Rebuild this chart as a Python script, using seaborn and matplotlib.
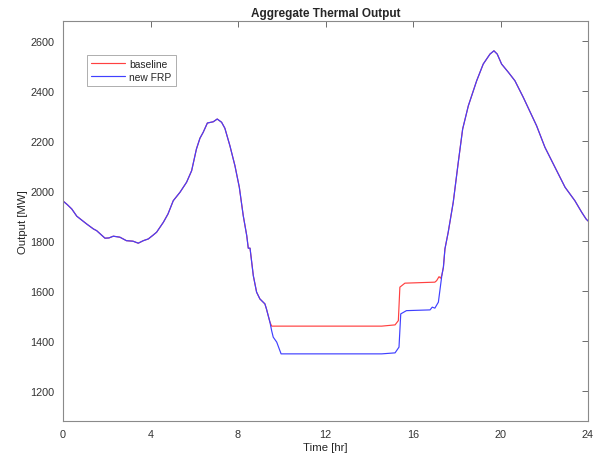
import numpy as np
import pandas as pd
import matplotlib
import matplotlib.pyplot as plt
import seaborn as sns

matplotlib.use("Agg")

# shared part before the two runs split (hr, MW)
hours_am = [0.0, 0.2, 0.4, 0.63, 1.08, 1.39, 1.54, 1.92, 2.1, 2.3, 2.6, 2.9, 3.2, 3.44,
            3.67, 3.9, 4.13, 4.28, 4.59, 4.8, 5.04, 5.35, 5.65, 5.88, 6.1, 6.26, 6.41,
            6.6, 6.87, 7.05, 7.25, 7.4, 7.63, 7.86, 8.06, 8.24, 8.4, 8.47, 8.55, 8.7,
            8.85, 9.0, 9.23, 9.3, 9.46]
output_am = [1960, 1945, 1928, 1899, 1868, 1848, 1841, 1811, 1812, 1819, 1815, 1801, 1799, 1791,
             1801, 1808, 1824, 1835, 1875, 1908, 1961, 1995, 2035, 2081, 2168, 2211, 2235,
             2272, 2277, 2288, 2275, 2251, 2181, 2101, 2015, 1901, 1821, 1771, 1771, 1661,
             1595, 1568, 1548, 1528, 1475]

# middle of the day, where baseline and new FRP differ
hours_mid_base = [9.54, 14.57, 15.18, 15.33, 15.4, 15.63, 17.0, 17.08, 17.19, 17.26]
base_mid = [1459, 1459, 1464, 1481, 1615, 1631, 1635, 1641, 1657, 1651]
hours_mid_frp = [9.54, 9.61, 9.77, 9.97, 14.57, 15.18, 15.36, 15.44, 15.7, 16.78, 16.88, 17.0, 17.16]
frp_mid = [1440, 1415, 1395, 1348, 1348, 1352, 1375, 1508, 1521, 1524, 1535, 1531, 1555]

# shared evening part
hours_pm = [17.32, 17.39, 17.46, 17.61, 17.84, 18.07, 18.27, 18.53, 18.91, 19.21, 19.52, 19.7,
            19.85, 20.05, 20.36, 20.66, 21.04, 21.65, 22.03, 22.57, 22.95, 23.4, 23.71, 23.91, 24.0]
output_pm = [1663, 1695, 1768, 1835, 1955, 2115, 2248, 2341, 2441, 2508, 2548, 2561,
             2548, 2508, 2475, 2441, 2375, 2261, 2175, 2081, 2015, 1961, 1915, 1888, 1880]

series = ["baseline", "new FRP"]

frames = []
for name, hm, vm in [(series[0], hours_mid_base, base_mid), (series[1], hours_mid_frp, frp_mid)]:
    frames.append(pd.DataFrame({
        "hr": hours_am + hm + hours_pm,
        "MW": output_am + vm + output_pm,
        "run": name,
    }))
df = pd.concat(frames, ignore_index=True)

sns.set_style("white")
plt.rcParams['font.family'] = ['Liberation Sans', 'DejaVu Sans']

fig = plt.figure(figsize=(6, 4.6), dpi=100)
ax = fig.add_axes([0.105, 0.083, 0.875, 0.869])

sns.lineplot(data=df, x="hr", y="MW", hue="run", palette={"baseline": "#ff4040", "new FRP": "#4040ff"},
             estimator=None, sort=False, linewidth=0.85, ax=ax)

ax.set_xlim(0, 24)
ax.set_ylim(1080, 2680)
ax.set_xticks(np.arange(0, 25, 4))
ax.set_yticks(np.arange(1200, 2601, 200))
ax.tick_params(direction="in", top=True, right=True, length=4, width=0.6, pad=6,
               labelsize=7.8, colors="#555555", labelcolor="#333333")
for sp in ax.spines.values():
    sp.set_color("#8a8a8a")
    sp.set_linewidth(0.8)

ax.set_xlabel("Time [hr]", fontsize=8.2, color="#262626", labelpad=2)
ax.set_ylabel("Output [MW]", fontsize=8.2, color="#262626", labelpad=2)
ax.set_title("Aggregate Thermal Output", fontsize=8.5, fontweight="bold", pad=4)

leg = ax.legend(loc="upper left", bbox_to_anchor=(0.046, 0.916), borderaxespad=0,
                fontsize=7.4, frameon=True, fancybox=False, handlelength=3.3,
                handletextpad=0.4, borderpad=0.4, labelspacing=0.3)
leg.get_frame().set_edgecolor("#8a8a8a")
leg.get_frame().set_linewidth(0.6)

fig.savefig("out.png", dpi=100)
